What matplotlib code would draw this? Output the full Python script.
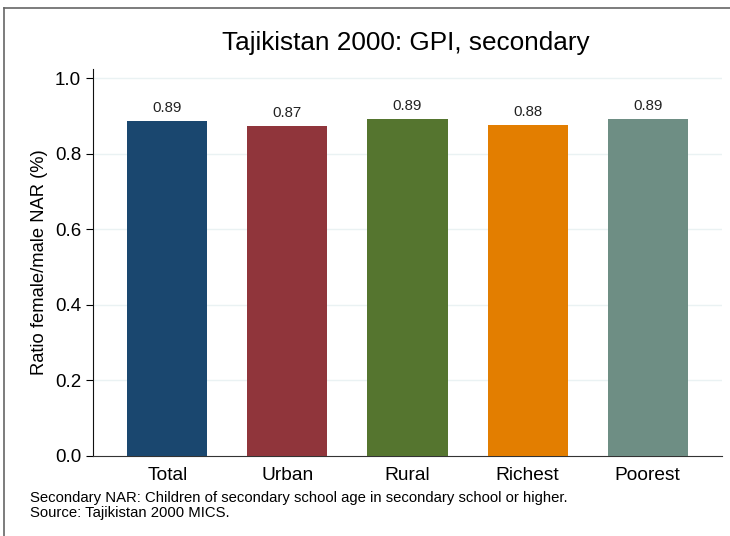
import matplotlib.pyplot as plt
from matplotlib.lines import Line2D

groups = ["Total", "Urban", "Rural", "Richest", "Poorest"]
gpi = [0.887, 0.874, 0.892, 0.877, 0.891]
colors = ["#1a476f", "#90353b", "#55752f", "#e37e00", "#6e8e84"]

plt.rcParams['font.family'] = ['Liberation Sans', 'DejaVu Sans']

fig = plt.figure(figsize=(7.3, 5.36), dpi=100)
ax = fig.add_axes([93 / 730, 1 - 456 / 536, (722 - 93) / 730, (456 - 69) / 536])

x = range(len(groups))
bars = ax.bar(x, gpi, width=0.667, color=colors, edgecolor="none", zorder=3)
for b, v in zip(bars, gpi):
    ax.text(b.get_x() + b.get_width() / 2, v + 0.016, f"{v:.2f}",
            ha="center", va="bottom", fontsize=10.8, color="#222222")

ax.set_xlim(-0.62, 4.62)
ax.set_ylim(0, 1.024)
ax.set_yticks([0, 0.2, 0.4, 0.6, 0.8, 1.0])
ax.set_yticklabels(["0.0", "0.2", "0.4", "0.6", "0.8", "1.0"])
ax.set_xticks(list(x))
ax.set_xticklabels(groups)
ax.tick_params(axis="x", length=0, labelsize=13.8, pad=8)
ax.tick_params(axis="y", length=5, labelsize=13.5, width=0.8)
for yv in [0.2, 0.4, 0.6, 0.8, 1.0]:
    ax.axhline(yv, color="#eaf2f3", lw=1, zorder=1)
for s in ["top", "right"]:
    ax.spines[s].set_visible(False)
ax.spines["left"].set_color("#111111")
ax.spines["bottom"].set_color("#333333")
ax.set_ylabel("Ratio female/male NAR (%)", fontsize=13.2, labelpad=5)

fig.text(0.5 * (222 + 590) / 730, 1 - 43 / 536, "Tajikistan 2000: GPI, secondary",
         ha="center", va="center", fontsize=18.8)
fig.text(30 / 730, 1 - 498 / 536,
         "Secondary NAR: Children of secondary school age in secondary school or higher.",
         ha="left", va="center", fontsize=10.7)
fig.text(30 / 730, 1 - 513 / 536, "Source: Tajikistan 2000 MICS.",
         ha="left", va="center", fontsize=10.7)

# frame remnants at top and left edge
fig.add_artist(Line2D([4 / 730, 1], [1 - 8 / 536, 1 - 8 / 536], color="#666666", lw=1.2))
fig.add_artist(Line2D([4 / 730, 4 / 730], [0, 1 - 8 / 536], color="#666666", lw=1.2))

fig.savefig("out.png", dpi=100)
